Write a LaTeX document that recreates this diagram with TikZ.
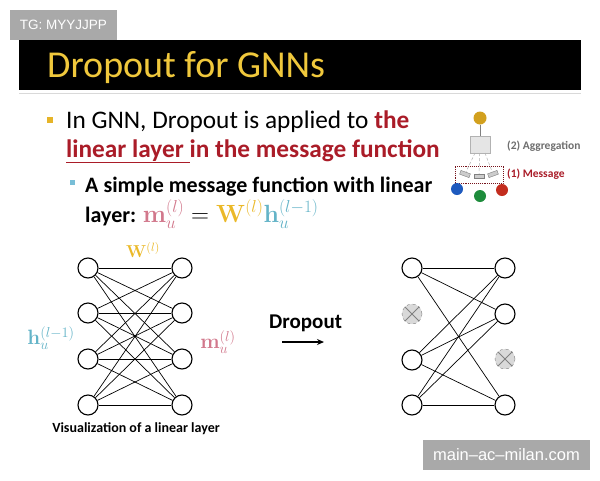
\documentclass[tikz,border=0pt]{standalone}
\usepackage[no-math]{fontspec}
\setmainfont{Carlito}
\newfontfamily\wmfont{Liberation Sans}
\usetikzlibrary{arrows.meta}
\definecolor{tyellow}{RGB}{240,200,60}
\definecolor{dred}{RGB}{170,28,40}
\definecolor{byellow}{RGB}{230,180,40}
\definecolor{bblue}{RGB}{120,190,215}
\definecolor{mpink}{RGB}{210,120,140}
\definecolor{wgold}{RGB}{235,185,40}
\definecolor{hteal}{RGB}{100,180,200}
\definecolor{wmgray}{RGB}{169,169,169}
\definecolor{agggray}{RGB}{110,110,110}
\definecolor{cblue}{RGB}{30,90,190}
\definecolor{cgreen}{RGB}{30,140,60}
\definecolor{cred}{RGB}{195,45,30}
\definecolor{cgold}{RGB}{210,160,30}
\begin{document}
\begin{tikzpicture}[x=1pt,y=-1pt,
  neuron/.style={circle,draw,line width=1.1pt,minimum size=20pt,inner sep=0pt},
  dropped/.style={circle,draw=gray,dashed,fill=gray!30,minimum size=20pt,inner sep=0pt},
  edge/.style={line width=0.7pt},
  txt/.style={anchor=base west,inner sep=0pt},
  wmbox/.style={fill=wmgray,text=white,inner sep=0pt,font=\wmfont},
  dot/.style={circle,minimum size=12pt,inner sep=0pt},
  msgrect/.style={draw=gray,fill=gray!40,minimum width=10pt,minimum height=4pt,inner sep=0pt},
  msgline/.style={gray!60,densely dashed,line width=0.5pt}]
\useasboundingbox (0,0) rectangle (600,480);
\fill[white] (0,0) rectangle (600,480);
% watermark top
\node[wmbox,minimum width=107pt,minimum height=30pt] (wm1) at (63.5,25) {\fontsize{13.5}{16}\selectfont TG: MYYJJPP};
% title bar
\fill[black] (19,40) rectangle (581,90);
\draw[gray!30,line width=0.8pt] (19,93) -- (581,93);
\node[txt,text=tyellow] (title) at (47,77) {\fontsize{38}{44}\selectfont Dropout for GNNs};
% bullet 1
\node[fill=byellow,minimum size=6pt,inner sep=0pt] (sq1) at (50,120) {};
\node[txt] (b1a) at (66,128) {\fontsize{25.3}{30}\selectfont In GNN, Dropout is applied to \textcolor{dred}{\bfseries the}};
\node[txt,text=dred] (b1b) at (66,157) {\fontsize{25.3}{30}\selectfont\bfseries\underline{linear layer\ }in the message function};
% sub bullet
\node[fill=bblue,minimum size=5pt,inner sep=0pt] (sq2) at (72,182) {};
\node[txt] (b2a) at (85,192) {\fontsize{22}{26}\selectfont\bfseries A simple message function with linear};
\node[txt] (b2b) at (85,222) {\fontsize{22}{26}\selectfont\bfseries layer: \fontsize{23.5}{26}\selectfont$\color{mpink}\mathbf{m}_u^{(l)}\color{black} = \color{wgold}\mathbf{W}^{(l)}\color{hteal}\mathbf{h}_u^{(l-1)}$};
% small message diagram
\node[dot,fill=cgold,minimum size=13pt] (tgt) at (480,118) {};
\node[draw=gray!60,fill=gray!20,minimum width=20pt,minimum height=17pt,inner sep=0pt] (agg) at (480,144.5) {};
\draw[gray,line width=0.8pt] (tgt) -- (agg);
\node[draw=dred!70!black,densely dotted,line width=0.9pt,minimum width=48pt,minimum height=17pt,inner sep=0pt] (msgbox) at (479,174.5) {};
\node[msgrect,rotate=-20] (m1) at (465,174) {};
\node[msgrect] (m2) at (479,176) {};
\node[msgrect,rotate=20] (m3) at (493,174) {};
\coordinate (a1) at (475,153);
\coordinate (a3) at (485,153);
\draw[msgline] (a1) -- (m1);
\draw[msgline] (agg) -- (m2);
\draw[msgline] (a3) -- (m3);
\node[dot,fill=cblue] (s1) at (457,189) {};
\node[dot,fill=cgreen] (s2) at (480,196) {};
\node[dot,fill=cred] (s3) at (502,190) {};
\node[anchor=west,text=agggray,inner sep=0pt] (aggl) at (507,146) {\fontsize{11.5}{14}\selectfont\bfseries (2) Aggregation};
\node[anchor=west,text=dred,inner sep=0pt] (msgl) at (507,174) {\fontsize{11.5}{14}\selectfont\bfseries (1) Message};
% left network
\foreach \i/\y in {1/268,2/313,3/359,4/405}{
  \node[neuron] (L\i) at (88,\y) {};
  \node[neuron] (R\i) at (182,\y) {};
}
\foreach \i in {1,...,4}{\foreach \j in {1,...,4}{\draw[edge] (L\i) -- (R\j);}}
\node[text=wgold,inner sep=0pt] (wlab) at (143,250) {\fontsize{18}{20}\selectfont$\mathbf{W}^{(l)}$};
\node[text=hteal,inner sep=0pt] (hlab) at (51,338) {\fontsize{20}{22}\selectfont$\mathbf{h}_u^{(l-1)}$};
\node[text=mpink,inner sep=0pt] (mlab) at (218,342) {\fontsize{20}{22}\selectfont$\mathbf{m}_u^{(l)}$};
\node[anchor=base,inner sep=0pt] (vis) at (136,432) {\fontsize{14}{16}\selectfont\bfseries Visualization of a linear layer};
% dropout arrow
\node[txt] (drop) at (269,328) {\fontsize{21}{24}\selectfont\bfseries Dropout};
\coordinate (ar1) at (282,342);
\coordinate (ar2) at (324,342);
\draw[line width=1.5pt,-{Stealth[length=7pt,width=6pt]}] (ar1) -- (ar2);
% right network
\node[neuron] (P1) at (412,268) {};
\node[dropped] (P2) at (412,314) {};
\node[neuron] (P3) at (412,360) {};
\node[neuron] (P4) at (412,405) {};
\node[neuron] (Q1) at (505,268) {};
\node[neuron] (Q2) at (505,314) {};
\node[dropped] (Q3) at (505,359) {};
\node[neuron] (Q4) at (505,405) {};
\foreach \n in {P2,Q3}{
  \draw[gray,line width=0.8pt] (\n.45) -- (\n.225);
  \draw[gray,line width=0.8pt] (\n.135) -- (\n.315);
}
\foreach \i in {1,3,4}{\foreach \j in {1,2,4}{\draw[edge] (P\i) -- (Q\j);}}
% watermark bottom
\node[wmbox,minimum width=167pt,minimum height=30pt] (wm2) at (506.5,455) {\fontsize{16.5}{19}\selectfont main–ac–milan.com};
\end{tikzpicture}
\end{document}
